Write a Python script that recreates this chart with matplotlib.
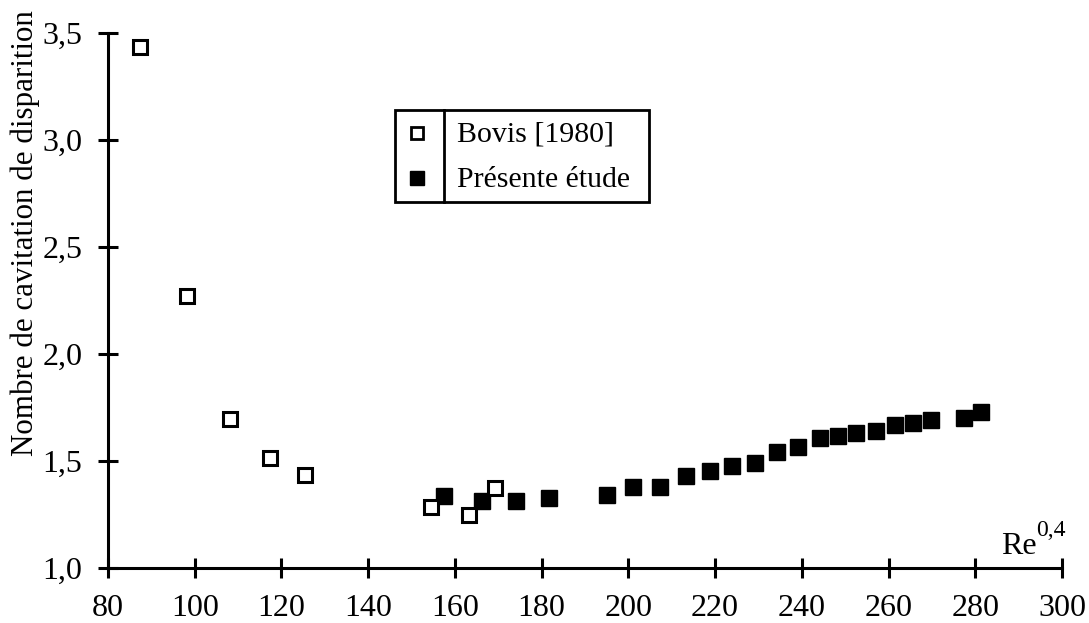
import matplotlib
matplotlib.use("Agg")
import matplotlib.pyplot as plt
from matplotlib.patches import Rectangle
from matplotlib.lines import Line2D

plt.rcParams['font.family'] = ['Liberation Serif', 'DejaVu Serif']

# Bovis [1980]
bovis_x = [87.4, 98.2, 108.2, 117.4, 125.5, 154.5, 163.2, 169.3]
bovis_y = [3.435, 2.27, 1.696, 1.514, 1.435, 1.286, 1.248, 1.372]

# Présente étude
etude_x = [157.5, 166.2, 174.2, 181.6, 195.1, 201.1, 207.2, 213.4, 218.9, 223.9,
           229.3, 234.2, 239.2, 244.1, 248.3, 252.6, 257.0, 261.4, 265.7, 269.9,
           277.4, 281.3]
etude_y = [1.336, 1.313, 1.313, 1.329, 1.341, 1.38, 1.38, 1.43, 1.455, 1.478,
           1.492, 1.543, 1.567, 1.606, 1.617, 1.629, 1.640, 1.668, 1.679, 1.692,
           1.700, 1.730]

x_ticks = [80, 100, 120, 140, 160, 180, 200, 220, 240, 260, 280, 300]
y_ticks = [1.0, 1.5, 2.0, 2.5, 3.0, 3.5]
y_tick_labels = ["1,0", "1,5", "2,0", "2,5", "3,0", "3,5"]
legend_labels = ["Bovis [1980]", "Présente étude"]

W, H = 1089, 623
fig = plt.figure(figsize=(W / 100, H / 100), dpi=100)
ax = fig.add_axes([108 / W, (H - 568) / H, (1062 - 108) / W, (568 - 33) / H])

ax.set_xlim(80, 300)
ax.set_ylim(1.0, 3.5)

ax.plot(etude_x, etude_y, linestyle='none', marker='s', markersize=12,
        markerfacecolor='black', markeredgecolor='black', clip_on=False)
ax.plot(bovis_x, bovis_y, linestyle='none', marker='s', markersize=9.5,
        markerfacecolor='white', markeredgecolor='black', markeredgewidth=2.2,
        clip_on=False)

for side in ('top', 'right'):
    ax.spines[side].set_visible(False)
for side in ('left', 'bottom'):
    ax.spines[side].set_linewidth(2.2)

ax.set_xticks(x_ticks)
ax.set_xticklabels([str(v) for v in x_ticks])
ax.set_yticks(y_ticks)
ax.set_yticklabels(y_tick_labels)
ax.tick_params(axis='both', direction='inout', length=15, width=2.2,
               labelsize=23, colors='black')
ax.tick_params(axis='x', pad=11)
ax.tick_params(axis='y', pad=11)

# axis titles
fig.text(25 / W, 1 - 233 / H, "Nombre de cavitation de disparition",
         rotation=90, ha='center', va='center', fontsize=22.3)
fig.text(1037 / W, 1 - 546 / H, "Re", ha='right', va='center', fontsize=23)
fig.text(1036 / W, 1 - 530 / H, "0,4", ha='left', va='center', fontsize=17)

# legend box with a divider between symbols and labels
fig.patches.append(Rectangle((395 / W, 1 - 202 / H), (649 - 395) / W, (202 - 110) / H,
                             transform=fig.transFigure, facecolor='white',
                             edgecolor='black', linewidth=2))
fig.lines.append(Line2D([444 / W, 444 / W], [1 - 110 / H, 1 - 202 / H],
                        transform=fig.transFigure, color='black', linewidth=2))
fig.lines.append(Line2D([417 / W], [1 - 133 / H], transform=fig.transFigure,
                        marker='s', markersize=8.5, markerfacecolor='white',
                        markeredgecolor='black', markeredgewidth=2, linestyle='none'))
fig.lines.append(Line2D([417 / W], [1 - 178 / H], transform=fig.transFigure,
                        marker='s', markersize=10, markerfacecolor='black',
                        markeredgecolor='black', linestyle='none'))
fig.text(457 / W, 1 - 134 / H, legend_labels[0], ha='left', va='center', fontsize=21.5)
fig.text(457 / W, 1 - 180 / H, legend_labels[1], ha='left', va='center', fontsize=21.5)

fig.savefig("out.png", dpi=100)
